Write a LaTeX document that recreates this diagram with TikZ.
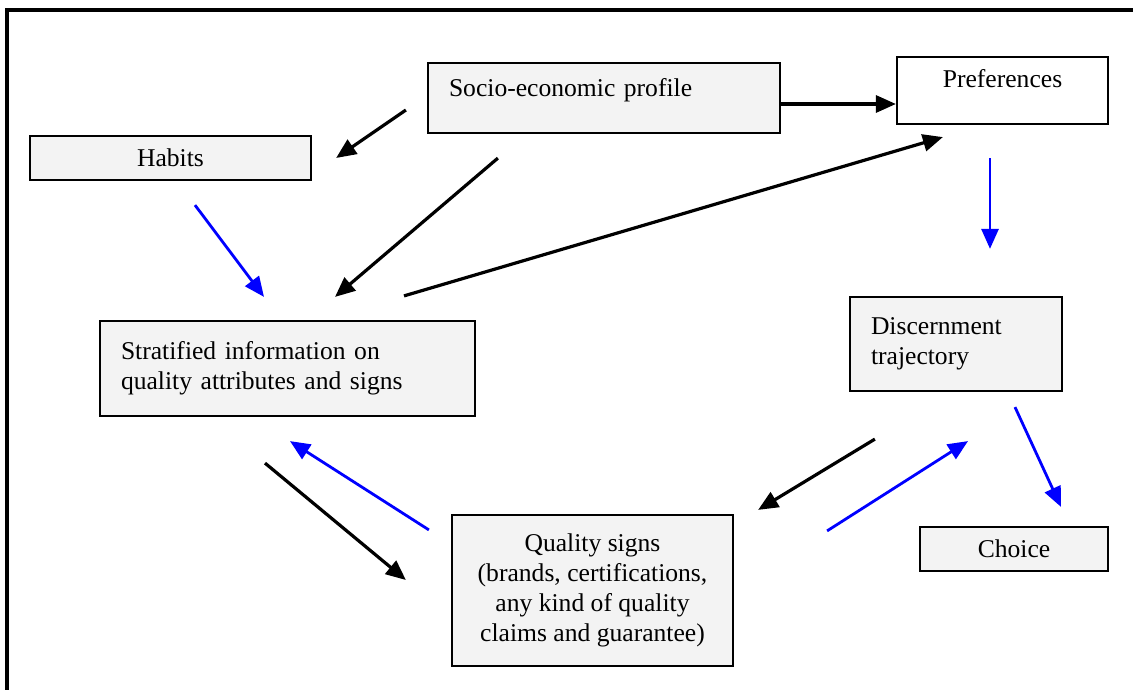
\documentclass[tikz,border=0pt]{standalone}
\usepackage{fontspec}
\setmainfont{Liberation Serif}
\usetikzlibrary{arrows.meta, calc}
\definecolor{boxshade}{RGB}{243, 243, 243}
\definecolor{linkblue}{RGB}{0, 0, 255}

\begin{document}
\begin{tikzpicture}[
    x=1pt, y=-1pt,
    box/.style={rectangle, draw=black, line width=2.2pt, fill=boxshade, inner sep=0pt, align=center, font=\fontsize{25.6}{30}\selectfont},
    plainbox/.style={box, fill=white},
    leftbox/.style={box, align=left, inner xsep=21pt},
    arrow/.style={-{Triangle[length=20pt, width=17pt]}, line width=3.2pt, color=black},
    bluearrow/.style={arrow, color=linkblue, line width=2.8pt},
]

% Frame and page size
\useasboundingbox (0,0) rectangle (1133,690);
\draw[line width=3.5pt] (7,690) -- (7,10) -- (1133,10);

% Boxes
\node[leftbox, text width=310pt, minimum height=70pt, text depth=21pt] (socio) at (604, 98) {Socio-economic profile};
\node[plainbox, minimum width=211pt, minimum height=67pt, text depth=25pt] (pref) at (1002.5, 90.5) {Preferences};
\node[box, minimum width=281pt, minimum height=44pt] (habits) at (170.5, 158) {Habits};
\node[leftbox, text width=333pt, minimum height=95pt] (strat) at (287.5, 368.5) {Stratified information on\\quality attributes and signs};
\node[leftbox, text width=170pt, minimum height=94pt] (discern) at (956, 344) {Discernment\\trajectory};
\node[box, minimum width=281pt, minimum height=151pt] (quality) at (592.5, 590.5) {Quality signs\\(brands, certifications,\\any kind of quality\\claims and guarantee)};
\node[box, minimum width=188pt, minimum height=44pt] (choice) at (1014, 549) {Choice};

% Black arrows
\draw[arrow] ($(socio.east)+(0,6)$) -- ($(pref.west)+(0,13.5)$);
\draw[arrow] ($(socio.west)+(-21,12)$) -- ($(habits.east)+(24,0)$);
\draw[arrow] ($(socio.south west)+(71,24)$) -- ($(strat.north)+(47.5,-23)$);
\draw[arrow] ($(strat.north)+(116.5,-24)$) -- ($(pref.south west)+(47,12)$);
\draw[arrow] ($(strat.south)+(-22.5,46)$) -- ($(quality.west)+(-45,-10.5)$);
\draw[arrow] ($(discern.south west)+(26,47)$) -- ($(quality.north east)+(24,-4)$);

% Blue arrows
\draw[bluearrow] ($(habits.south)+(24.5,24)$) -- ($(strat.north)+(-23.5,-23)$);
\draw[bluearrow] ($(pref.south)+(-12.5,33)$) -- ($(discern.north)+(34,-47)$);
\draw[bluearrow] ($(quality.north west)+(-22,16)$) -- ($(strat.south)+(2.5,24)$);
\draw[bluearrow] ($(quality.north east)+(93,17)$) -- ($(discern.south)+(12,49)$);
\draw[bluearrow] ($(discern.south)+(59,15)$) -- ($(choice.north)+(47,-19)$);

\end{tikzpicture}
\end{document}
